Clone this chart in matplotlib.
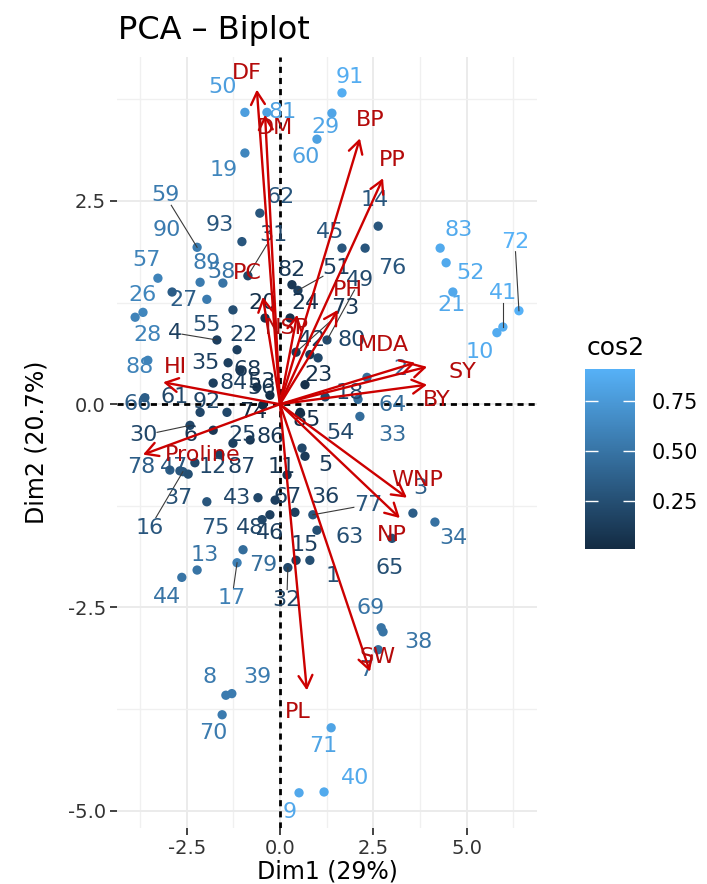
import numpy as np
import matplotlib
matplotlib.use("Agg")
import matplotlib.pyplot as plt
from matplotlib.colors import LinearSegmentedColormap, Normalize
from matplotlib.cm import ScalarMappable

plt.rcParams['axes.unicode_minus'] = False

# individuals (coordinates on Dim1 / Dim2 and their cos2)
ind_labels = [str(i) for i in range(1, 94)]
ind_dim1 = [0.80, 2.33, 3.56, -1.69, 0.67, -1.79, 2.63, -1.45, 0.51, 5.81,
            0.19, -2.28, -2.22, 2.63, 0.43, -2.60, -1.15, 1.21, -0.94, -0.40,
            4.63, -1.15, 0.67, 0.27, -1.26, -3.67, -2.89, -3.88, 1.39, -2.41,
            -0.86, 0.21, 2.14, 4.15, -1.39, 0.40, -2.46, 2.76, -1.29, 1.18,
            5.97, 0.80, -0.59, -2.63, 1.66, -0.27, -2.68, -0.48, 1.26, -0.94,
            0.48, 4.45, -0.27, 0.59, -1.26, -0.62, -3.27, -1.53, -2.22, 0.99,
            -2.14, -0.54, 0.99, 2.09, 3.00, -3.62, -0.13, -1.07, 2.71, -1.55,
            1.37, 6.40, 0.43, -0.46, -1.96, 2.28, 0.88, -2.95, -0.99, 1.02,
            -0.35, 0.32, 4.29, -1.79, 0.54, -0.80, -1.61, -3.54, -1.96, -2.14,
            1.66, -1.42, -1.02]
ind_dim2 = [-1.92, 0.33, -1.34, 0.79, -0.64, -0.32, -3.02, -3.58, -4.78, 0.88,
            -0.87, -0.72, -2.04, 2.19, -1.92, -0.83, -1.95, 0.09, 3.09, 1.06,
            1.38, 0.67, 0.24, 1.06, -0.48, 1.13, 1.38, 1.07, 3.58, -0.26,
            1.58, -2.01, -0.15, -1.45, 0.51, -1.33, -0.86, -2.80, -3.56, -4.77,
            0.95, 0.61, -1.15, -2.13, 1.92, -1.36, -0.82, -1.42, 0.79, 3.59,
            1.40, 1.74, 0.11, -0.54, 1.16, 0.21, 1.55, 1.49, 1.93, 3.26,
            -0.10, 2.35, -1.55, 0.06, -1.65, 0.08, -1.18, 0.42, -2.75, -3.82,
            -3.98, 1.15, 0.64, -0.01, -1.20, 1.92, -1.36, -0.81, -1.79, 0.57,
            3.59, 1.47, 1.92, 0.26, -0.10, -0.44, -0.62, 0.54, 1.29, 1.50,
            3.83, -0.10, 2.00]
ind_cos2 = [0.25, 0.45, 0.35, 0.15, 0.12, 0.10, 0.45, 0.55, 0.85, 0.87,
            0.08, 0.20, 0.50, 0.30, 0.15, 0.30, 0.58, 0.20, 0.62, 0.05,
            0.85, 0.15, 0.05, 0.06, 0.15, 0.62, 0.35, 0.60, 0.83, 0.20,
            0.20, 0.20, 0.45, 0.48, 0.15, 0.15, 0.25, 0.50, 0.55, 0.86,
            0.88, 0.10, 0.20, 0.50, 0.30, 0.15, 0.30, 0.20, 0.22, 0.78,
            0.15, 0.86, 0.03, 0.20, 0.25, 0.08, 0.60, 0.50, 0.55, 0.80,
            0.20, 0.30, 0.25, 0.45, 0.25, 0.35, 0.15, 0.10, 0.50, 0.55,
            0.82, 0.91, 0.10, 0.01, 0.30, 0.30, 0.30, 0.35, 0.45, 0.20,
            0.80, 0.10, 0.86, 0.15, 0.04, 0.10, 0.15, 0.60, 0.55, 0.55,
            0.88, 0.20, 0.30]

# variables (arrow ends)
var_names = ["DF", "DM", "BP", "PP", "PH", "PC", "NSP", "MDA", "SY", "BY",
             "WNP", "NP", "SW", "PL", "Proline", "HI"]
var_dim1 = [-0.62, -0.40, 2.14, 2.76, 1.55, -0.46, 0.46, 3.62, 3.94, 3.94,
            3.40, 3.21, 2.41, 0.72, -3.67, -3.13]
var_dim2 = [3.87, 3.56, 3.27, 2.78, 1.16, 1.32, 1.10, 0.51, 0.46, 0.24,
            -1.15, -1.40, -3.29, -3.52, -0.62, 0.27]

# label placement (pixel offsets, like ggrepel would give)
ind_offsets = [(23, -16), (33, 8), (7, 25), (-42, 7), (20, -9), (-23, -5), (-12, -20),
               (-16, 18), (-9, -19), (-17, -19), (-5, 8), (18, -4), (8, 15), (-3, 26),
               (9, 15), (-33, -56), (-5, -35), (25, 4), (-21, -17), (-3, 15), (-1, -13),
               (6, 15), (13, 10), (15, 15), (10, 8), (0, 17), (11, -8), (12, -18),
               (-6, -14), (-47, -10), (25, 41), (-1, -32), (32, -19), (18, -16), (-23, 0),
               (30, 15), (-10, -24), (35, -10), (26, 17), (31, 14), (0, 34), (2, 15),
               (-21, 0), (-15, -20), (-12, 16), (0, -18), (-6, 4), (-12, -8), (33, 60),
               (-22, 25), (39, 22), (24, -10), (-8, 13), (38, 15), (-26, -15), (5, -1),
               (-11, 18), (-1, 11), (-32, 52), (-11, -18), (-25, 15), (21, 16), (33, -7),
               (35, -6), (-2, -30), (-7, -6), (12, 3), (8, 0), (-11, 20), (-9, -18),
               (-8, -18), (-4, 69), (49, 44), (-10, -7), (8, -26), (27, -20), (55, 10),
               (-29, 3), (20, -15), (34, 18), (16, 0), (0, 15), (18, 18), (20, 0),
               (7, -8), (20, 3), (22, -12), (-8, -7), (0, 36), (-33, 52), (8, 16),
               (-20, 10), (-22, 17)]
seg_labels = ["4", "16", "17", "30", "31", "32", "41", "49", "51", "59", "72", "73", "77"]
var_offsets = [(-10, 17), (10, -13), (10, 18), (9, 18), (10, 20), (-16, 24), (-10, -13),
               (-32, 18), (35, -5), (10, -15), (10, 18), (-8, -17), (8, 15), (-9, -22),
               (60, 0), (12, 15)]

red = "#CC0000"
cmap = LinearSegmentedColormap.from_list("cos2", ["#132B43", "#56B1F7"])
norm = Normalize(vmin=min(ind_cos2), vmax=max(ind_cos2))

fig = plt.figure(figsize=(7.07, 8.84), dpi=100)
ax = fig.add_axes([117 / 707, 1 - 828 / 884, 420 / 707, 771 / 884])
ax.set_xlim(-4.366, 6.884)
ax.set_ylim(-5.213, 4.271)

ax.set_xticks([-2.5, 0, 2.5, 5.0])
ax.set_xticklabels(["-2.5", "0.0", "2.5", "5.0"])
ax.set_yticks([-5.0, -2.5, 0, 2.5])
ax.set_yticklabels(["-5.0", "-2.5", "0.0", "2.5"])
ax.set_xticks([-3.75, -1.25, 1.25, 3.75, 6.25], minor=True)
ax.set_yticks([-3.75, -1.25, 1.25, 3.75], minor=True)
ax.grid(which='major', color='#EBEBEB', lw=1.4)
ax.grid(which='minor', color='#F0F0F0', lw=1.0)
ax.set_axisbelow(True)
ax.tick_params(which='major', length=5, width=1.3, color='#333333',
               labelsize=14, labelcolor='#333333', pad=3)
ax.tick_params(which='minor', length=0)
for s in ax.spines.values():
    s.set_visible(False)

ax.axhline(0, color='black', lw=2, ls=(0, (2.2, 1.8)), zorder=1)
ax.axvline(0, color='black', lw=2, ls=(0, (2.2, 1.8)), zorder=1)

cols = [cmap(norm(c)) for c in ind_cos2]
ax.scatter(ind_dim1, ind_dim2, s=45, c=cols, edgecolors='none', zorder=2)

# repel-like segments from point to the edge of its label
inv = ax.transData.inverted()
for lab, x, y, (dx, dy) in zip(ind_labels, ind_dim1, ind_dim2, ind_offsets):
    if lab not in seg_labels:
        continue
    P = ax.transData.transform((x, y))
    C = P + np.array([dx, dy])
    d = P - C
    hw, hh = 0.5 * len(lab) * 14, 10
    t = min(hw / abs(d[0]) if d[0] else np.inf, hh / abs(d[1]) if d[1] else np.inf)
    E = C + t * d
    pd_ = inv.transform(P)
    ed_ = inv.transform(E)
    ax.plot([pd_[0], ed_[0]], [pd_[1], ed_[1]], color='#3A3A3A', lw=0.8, zorder=2)

for lab, x, y, c, (dx, dy) in zip(ind_labels, ind_dim1, ind_dim2, cols, ind_offsets):
    ax.annotate(lab, xy=(x, y), xytext=(dx, dy), textcoords='offset pixels',
                ha='center', va='center', fontsize=16, color=c, zorder=3)

for name, vx, vy, (dx, dy) in zip(var_names, var_dim1, var_dim2, var_offsets):
    ax.annotate("", xy=(vx, vy), xytext=(0, 0),
                arrowprops=dict(arrowstyle="->,head_length=0.45,head_width=0.25",
                                color=red, lw=1.7, mutation_scale=20,
                                shrinkA=0, shrinkB=0), zorder=4)
    ax.annotate(name, xy=(vx, vy), xytext=(dx, dy), textcoords='offset pixels',
                ha='center', va='center', fontsize=16, color="#B40A0A", zorder=5)

ax.set_xlabel("Dim1 (29%)", fontsize=17, labelpad=1)
ax.set_ylabel("Dim2 (20.7%)", fontsize=17, labelpad=14)
fig.text(118 / 707, 1 - 30 / 884, "PCA \u2013 Biplot", fontsize=23, ha='left', va='center')

# colour bar legend
cax = fig.add_axes([585 / 707, 1 - 549 / 884, 50 / 707, 180 / 884])
sm = ScalarMappable(norm=norm, cmap=cmap)
cb = fig.colorbar(sm, cax=cax, ticks=[0.25, 0.50, 0.75])
cb.outline.set_visible(False)
cb.ax.set_yticklabels(["0.25", "0.50", "0.75"])
cax.tick_params(direction='in', color='white', length=9, width=1,
                left=True, right=True, labelleft=False, labelright=True,
                labelsize=15, pad=12)
fig.text(587 / 707, 1 - 348 / 884, "cos2", fontsize=18, ha='left', va='center')

fig.savefig("out.png", dpi=100)
